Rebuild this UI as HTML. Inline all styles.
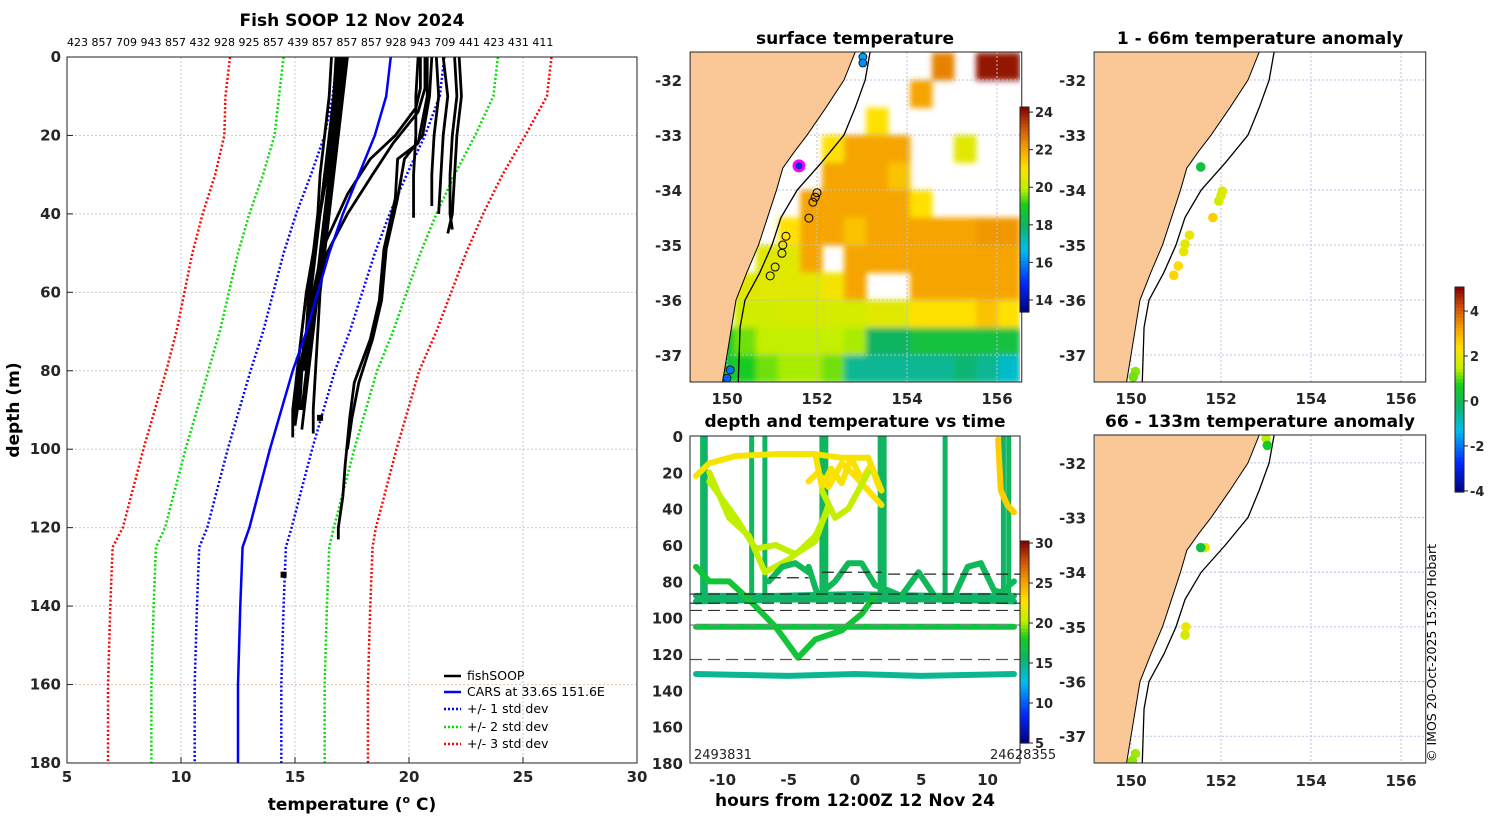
<!DOCTYPE html>
<html><head><meta charset="utf-8"><title>Fish SOOP 12 Nov 2024</title>
<style>
html,body{margin:0;padding:0;background:#fff;}
svg{display:block;font-family:"DejaVu Sans","Liberation Sans",sans-serif;}
.tk{font-size:15px;font-weight:bold;fill:#262626;}
.tt{font-size:17px;font-weight:bold;fill:#000;}
.lg{font-size:12.5px;fill:#000;}
</style></head>
<body>
<svg id="chart" width="1500" height="820" viewBox="0 0 1500 820" xmlns="http://www.w3.org/2000/svg">
<defs>
<clipPath id="clipL"><rect x="67" y="57" width="570" height="706"/></clipPath>
<clipPath id="clipM"><rect x="690" y="52" width="330" height="330"/></clipPath>
<clipPath id="clipT"><rect x="690" y="436" width="330" height="327"/></clipPath>
<clipPath id="clipR1"><rect x="1095" y="52" width="332" height="330"/></clipPath>
<clipPath id="clipR2"><rect x="1095" y="435" width="332" height="328"/></clipPath>
<filter id="soft" x="-5%" y="-5%" width="110%" height="110%"><feGaussianBlur stdDeviation="3"/></filter>
</defs>
<g id="gL"></g>
<g id="gM"></g>
<g id="gT"></g>
<g id="gR1"></g>
<g id="gR2"></g>
<text class="tt" x="352" y="26" text-anchor="middle">Fish SOOP 12 Nov 2024</text>
<text x="67" y="46" font-size="11" fill="#000">423 857 709 943 857 432 928 925 857 439 857 857 857 928 943 709 441 423 431 411</text>
<text class="tt" x="352" y="810" text-anchor="middle">temperature (<tspan font-size="11" dy="-7">o</tspan><tspan dy="7"> C)</tspan></text>
<text class="tt" x="19" y="410" text-anchor="middle" transform="rotate(-90 19 410)">depth (m)</text>
<text class="tt" x="855" y="44" text-anchor="middle">surface temperature</text>
<text class="tt" x="1260" y="44" text-anchor="middle">1 - 66m temperature anomaly</text>
<text class="tt" x="855" y="427" text-anchor="middle">depth and temperature vs time</text>
<text class="tt" x="1260" y="427" text-anchor="middle">66 - 133m temperature anomaly</text>
<text class="tt" x="855" y="806" text-anchor="middle">hours from 12:00Z 12 Nov 24</text>
<text x="1436" y="762" font-size="12.5" fill="#000" transform="rotate(-90 1436 762)">© IMOS 20-Oct-2025 15:20 Hobart</text>
<g>
<line x1="444" y1="676" x2="461" y2="676" stroke="#000" stroke-width="2.5"/>
<text class="lg" x="467" y="680">fishSOOP</text>
<line x1="444" y1="692" x2="461" y2="692" stroke="#0000ff" stroke-width="2.5"/>
<text class="lg" x="467" y="696">CARS at 33.6S 151.6E</text>
<line x1="444" y1="709" x2="461" y2="709" stroke="#0000ff" stroke-width="2.5" stroke-dasharray="2 2"/>
<text class="lg" x="467" y="713">+/- 1 std dev</text>
<line x1="444" y1="727" x2="461" y2="727" stroke="#00dd00" stroke-width="2.5" stroke-dasharray="2 2"/>
<text class="lg" x="467" y="731">+/- 2 std dev</text>
<line x1="444" y1="744" x2="461" y2="744" stroke="#ff0000" stroke-width="2.5" stroke-dasharray="2 2"/>
<text class="lg" x="467" y="748">+/- 3 std dev</text>
</g>
</svg>
<script>
// ---------- profile panel data ----------
const xTicks=[5,10,15,20,25,30];
const yTicks=[0,20,40,60,80,100,120,140,160,180];
const carsDepth=[0,10,20,30,40,50,60,70,80,100,120,125,140,160,180];
const carsMean=[19.2,19.0,18.5,17.8,17.1,16.5,16.0,15.5,14.9,13.9,13.0,12.7,12.6,12.5,12.5];
const carsSd=[2.35,2.35,2.2,2.1,2.05,2.0,1.95,1.9,1.85,1.85,1.85,1.9,1.9,1.9,1.9];
const profDepths=[
 [0,10,20,30,40,50,60,70,80,90,97],
 [0,10,20,30,40,50,60,70,80,90,95],
 [0,10,20,30,40,50,60,70,80,90,94],
 [0,10,20,30,40,50,60,70,80,90,96],
 [0,10,20,30,40,50,60,70,80,90,93],
 [0,10,20,30,40,50,60,70,80,90],
 [0,10,20,30,40,50,60,70,80,88],
 [0,8,13,20,26,35,49,60,70,80,90],
 [0,8,14,22,30,40,50,60,70,80],
 [0,10,22,26,36,49,62,72,83,92,104,112,120,123],
 [0,10,20,26,36,49,62,72,83,92,100],
 [0,10,20,30,41],
 [0,10,20,30,40,44],
 [0,10,20,30,40],
 [0,10,20,30,38],
 [0,10,20,30,40,45]
];
const profTemps=[
 [16.9,16.8,16.6,16.3,16.1,15.8,15.5,15.3,15.1,14.9,14.9],
 [17.1,17.0,16.8,16.6,16.4,16.2,16.0,15.8,15.6,15.4,15.3],
 [16.6,16.5,16.3,16.1,16.0,15.8,15.6,15.5,15.3,15.1,15.0],
 [17.3,17.1,16.9,16.7,16.5,16.3,16.1,16.0,15.9,15.8,15.8],
 [16.8,16.7,16.5,16.3,16.1,15.9,15.7,15.5,15.2,15.0,14.9],
 [17.0,16.9,16.7,16.5,16.3,16.1,15.9,15.7,15.5,15.3],
 [17.2,17.0,16.7,16.4,16.1,15.8,15.5,15.3,15.1,15.0],
 [20.5,20.5,20.3,19.4,18.3,17.3,16.2,15.8,15.5,15.3,15.2],
 [20.7,20.7,20.4,19.3,18.4,17.3,16.4,15.9,15.6,15.4],
 [20.8,20.8,20.4,19.5,19.4,18.9,18.7,18.3,17.6,17.4,17.2,17.1,16.9,16.9],
 [21.0,20.9,20.6,19.8,19.5,19.0,18.8,18.4,17.8,17.5,17.3],
 [20.4,20.3,20.3,20.2,20.2],
 [22.0,22.1,21.9,21.8,21.8,21.9],
 [21.5,21.7,21.5,21.4,21.3],
 [21.2,21.3,21.1,21.0,21.0],
 [22.2,22.3,22.1,22.0,21.9,21.7]
];
const blobTemps=[16.1,14.5];
const blobDepths=[92,132];

// ---------- SST map data (coarse grid; null = no data) ----------
const sstLon0=149.18, sstDLon=0.4887, sstLat0=-31.5, sstDLat=0.5;
const sstGrid=[
 [null,null,null,null,null,null,null,null,null,null,null,22.5,null,24,24],
 [null,null,null,null,null,null,null,null,null,null,22,null,null,null,null],
 [null,null,null,null,null,null,null,null,21,null,null,null,null,null,null],
 [null,null,null,null,null,null,21,22,22,22,null,null,20.5,null,null],
 [null,null,null,null,null,null,22,22,22,21.5,null,null,null,null,null],
 [null,null,null,null,null,22,22,22,22,22,21,null,null,null,null],
 [null,null,null,null,21,22,22,21.5,22,22,22,22,22,22.2,22.2],
 [null,null,null,20.5,20.5,22,null,22,22,22,22,22,22,22,22],
 [null,null,20.5,20.5,20.5,20.5,20.8,22,null,null,22,22,22,22,22],
 [null,null,20.2,20.2,20.3,20.3,20.3,20.3,20.5,20.5,21,21,21,21.5,21],
 [null,19,19.5,20,20,20,20,19.8,18,18,18.5,18.5,18.5,18.5,18.5],
 [null,18.5,19,19.5,19.8,19.8,19.5,17.5,17.5,17.5,17.5,17.5,17.8,17.5,17]
];
const coastLon=[152.85,152.6,152.2,151.78,151.5,151.24,151.1,150.9,150.7,150.44,150.2,150.1,150.0,149.9];
const coastLat=[-31.49,-32.0,-32.5,-33.0,-33.3,-33.6,-34.0,-34.5,-35.0,-35.5,-36.0,-36.5,-37.0,-37.5];
const trackLon=[153.18,153.07,152.85,152.6,152.1,151.56,151.2,151.0,150.73,150.4,150.29,150.27,150.25];
const trackLat=[-31.49,-32.0,-32.5,-33.0,-33.5,-34.0,-34.5,-35.0,-35.5,-36.0,-36.5,-37.0,-37.5];
const obsLon=[152.0,151.96,151.91,151.82,151.31,151.24,151.22,151.07,150.96];
const obsLat=[-34.05,-34.13,-34.22,-34.51,-34.84,-35.0,-35.15,-35.4,-35.56];
const endLon=[153.02,153.02,150.07,150.0];
const endLat=[-31.58,-31.69,-37.27,-37.42];
const endTemp=[16.3,16.1,15.8,15.6];
const curLon=151.6, curLat=-33.56;
const lonTicks=[150,152,154,156];
const latTicks=[-32,-33,-34,-35,-36,-37];
const sstCbTicks=[14,16,18,20,22,24];
// anomaly dots
const anom1Lon=[151.55,152.03,152.0,151.95,151.82,151.3,151.2,151.17,151.05,150.95,150.1,150.05];
const anom1Lat=[-33.58,-34.02,-34.1,-34.2,-34.5,-34.82,-34.98,-35.12,-35.38,-35.55,-37.3,-37.4];
const anom1Val=[0.2,1.8,1.8,1.7,2.6,2.0,1.9,2.0,2.4,2.5,1.2,1.1];
const anom2Lon=[153.0,153.03,151.65,151.55,151.22,151.2,150.1,150.03];
const anom2Lat=[-31.55,-31.68,-33.55,-33.55,-35.0,-35.15,-37.32,-37.45];
const anom2Val=[1.4,0.6,2.0,0.2,2.1,1.7,1.3,1.2];
const anomCbTicks=[4,2,0,-2,-4];

// ---------- depth vs time data ----------
const hourTicks=[-10,-5,0,5,10];
const dtDepthTicks=[0,20,40,60,80,100,120,140,160,180];
const dtCbTicks=[30,25,20,15,10,5];
const spikeHours=[-11.5,-11.3,-7.8,-6.8,-2.5,-2.2,1.9,2.2,6.8,11.2,11.6];
const spikeTemps=[15.8,15.5,15.9,15.8,15.7,15.9,15.6,15.8,15.8,15.5,15.9];
const traceHours=[
 [-12,-6,0,6,12],
 [-12,-6,0,6,12],
 [-12,-6,0,6,12],
 [-12,-5,0,5,12],
 [-12,-11,-9,-6,-3,-1,1,2],
 [-3.5,-2.8,-2,-1,0,1,2],
 [-3,-2.5,-1.8,-1,-0.3,0.5,1.2,1.8],
 [10.8,11,11.5,12],
 [-11,-9.5,-8,-6.8,-5,-4,-3,-2],
 [-11,-9,-7.5,-6,-4.5,-3,-2],
 [-2.5,-1.5,-0.5,1],
 [-3.5,-2.8,-1.5,-0.5,0.5,1.5,2.5,3.5,4.8,6,7.5,8.5,9.5,10.5,11,12],
 [-6.5,-5.5,-4.5,-3.5],
 [-12,-11,-9.5,-8,-6,-4.3,-3,-1,0.5,1.5]
];
const traceDepths=[
 [91,90,90,90,91],
 [88,88,87,88,88],
 [105,105,105,105,105],
 [131,132,131,132,131],
 [22,15,11,10,10,12,12,30],
 [25,20,28,15,22,30,38],
 [10,28,18,26,12,24,16,28],
 [2,30,38,42],
 [20,45,55,75,68,62,55,40],
 [25,45,62,60,65,58,38],
 [30,45,40,20],
 [72,88,80,70,70,82,85,88,75,88,88,72,70,85,86,80],
 [80,72,70,75],
 [72,80,80,90,105,122,112,107,98,88]
];
const traceTemps=[15.6,15.4,16.8,14.6,22.3,22.6,22.4,23.4,20.5,20.2,20.4,16.0,16.0,17.2];
const dashDepths=[87,92,96,104,123];
const dashColors=['#222','#222','#333','#888','#555'];
const shortDashStart=[-6.5,-2.5,2.5];
const shortDashEnd=[-3.5,2,12.5];
const shortDashDepth=[78,75,76];

// ---------- helpers ----------
const NS='http://www.w3.org/2000/svg';
function mk(tag,attrs,parent){const e=document.createElementNS(NS,tag);for(const k in attrs)e.setAttribute(k,attrs[k]);parent.appendChild(e);return e;}
const cmapStops=[[0,[0,0,128]],[0.14,[0,40,255]],[0.3,[0,190,240]],[0.42,[16,180,100]],[0.52,[20,205,30]],[0.6,[190,240,0]],[0.7,[255,225,0]],[0.8,[245,160,0]],[0.9,[205,80,10]],[1,[128,0,0]]];
function cmap(t){t=Math.max(0,Math.min(1,t));for(let i=1;i<cmapStops.length;i++){const a=cmapStops[i-1],b=cmapStops[i];if(t<=b[0]){const f=(t-a[0])/(b[0]-a[0]);const c=a[1].map((v,k)=>Math.round(v+(b[1][k]-v)*f));return 'rgb('+c.join(',')+')';}}return 'rgb(128,0,0)';}
function colorbar(parent,x,y0,y1,vmin,vmax,ticks,name){
 const n=60,h=(y1-y0)/n;
 for(let i=0;i<n;i++){const r=mk('rect',{x:x,y:y0+i*h,width:9,height:h+0.6,fill:cmap(1-(i+0.5)/n)},parent);
  
  }
 const fr=mk('rect',{x:x,y:y0,width:9,height:y1-y0,fill:'none',stroke:'#222','stroke-width':1},parent);
 
 
 ticks.forEach(v=>{const yy=y1-(v-vmin)/(vmax-vmin)*(y1-y0);
  const tl=mk('line',{x1:x+9,x2:x+13,y1:yy,y2:yy,stroke:'#222'},parent);
  
  
  const t=mk('text',{x:x+15,y:yy+5,'font-size':13,'font-weight':'bold',fill:'#262626'},parent);t.textContent=v;
  
  });
}

// ---------- left profile panel ----------
(function(){
 const g=document.getElementById('gL');
 const X=t=>67+(t-5)*22.8, Y=d=>57+d*3.922;
 xTicks.forEach(t=>{if(t>5&&t<30){const l=mk('line',{x1:X(t),x2:X(t),y1:57,y2:763,stroke:'#b8c8e8','stroke-width':1,'stroke-dasharray':'2 2'},g);
  
  }
  const tx=mk('text',{x:X(t),y:782,'text-anchor':'middle',class:'tk'},g);tx.textContent=t;
  
  
  const tm=mk('line',{x1:X(t),x2:X(t),y1:763,y2:757,stroke:'#222'},g);
  
  });
 yTicks.forEach(d=>{if(d>0&&d<180){const l=mk('line',{x1:67,x2:637,y1:Y(d),y2:Y(d),stroke:'#dcc8b8','stroke-width':1,'stroke-dasharray':'2 2'},g);
  
  }
  const tx=mk('text',{x:61,y:Y(d)+5,'text-anchor':'end',class:'tk'},g);tx.textContent=d;
  
  
  const tm=mk('line',{x1:67,x2:73,y1:Y(d),y2:Y(d),stroke:'#222'},g);
  
  });
 const c=mk('g',{'clip-path':'url(#clipL)'},g);
 
 
 const sdCols={1:'#0000ff',2:'#00dd00',3:'#ff0000'};
 [3,2,1].forEach(k=>{[-1,1].forEach(s=>{
  const pts=carsDepth.map((d,i)=>X(carsMean[i]+s*k*carsSd[i])+','+Y(d)).join(' ');
  const p=mk('polyline',{points:pts,fill:'none',stroke:sdCols[k],'stroke-width':2.5,'stroke-dasharray':'2 2.2'},c);
  
  });});
 profDepths.forEach((ds,j)=>{
  const pts=ds.map((d,i)=>X(profTemps[j][i])+','+Y(d)).join(' ');
  const p=mk('polyline',{points:pts,fill:'none',stroke:'#000','stroke-width':2.8,'stroke-linejoin':'round'},c);
  
  });
 blobDepths.forEach((d,i)=>{const r=mk('rect',{x:X(blobTemps[i])-3,y:Y(d)-3,width:6,height:6,fill:'#000'},c);
  
  });
 const pm=mk('polyline',{points:carsDepth.map((d,i)=>X(carsMean[i])+','+Y(d)).join(' '),fill:'none',stroke:'#0000ff','stroke-width':2.5},c);
 
 
 const f=mk('rect',{x:67,y:57,width:570,height:706,fill:'none',stroke:'#222','stroke-width':1},g);
 
 
})();

// ---------- map helpers ----------
function mapPanel(g,x0,y0,y1,clip,name,drawField){
 const X=lon=>x0+(lon-150)*45;
 const latScale=(y1-y0)/6.0;
 const Y=lat=>y0+(-31.49-lat)*latScale;
 const c=mk('g',{'clip-path':'url('+clip+')'},g);
 
 
 if(drawField) drawField(c,X,Y);
 lonTicks.forEach(l=>{const gl=mk('line',{x1:X(l),x2:X(l),y1:y0,y2:y1,stroke:'#b8c0e0','stroke-dasharray':'2 2'},c);
  
  });
 latTicks.forEach(l=>{const gl=mk('line',{x1:X(149.18),x2:X(156.55),y1:Y(l),y2:Y(l),stroke:'#b8c0e0','stroke-dasharray':'2 2'},c);
  
  });
 const lp=coastLon.map((lo,i)=>X(lo)+','+Y(coastLat[i])).join(' ')+' '+X(148)+','+Y(-37.6)+' '+X(148)+','+Y(-31.4);
 const land=mk('polygon',{points:lp,fill:'#f9c896',stroke:'#000','stroke-width':1},c);
 
 
 const tr=mk('polyline',{points:trackLon.map((lo,i)=>X(lo)+','+Y(trackLat[i])).join(' '),fill:'none',stroke:'#000','stroke-width':1.3},c);
 
 
 const fx=X(149.18), fw=X(156.55)-fx;
 const fr=mk('rect',{x:fx,y:y0,width:fw,height:y1-y0,fill:'none',stroke:'#222'},g);
 
 
 latTicks.forEach(l=>{const t=mk('text',{x:fx-8,y:Y(l)+6,'text-anchor':'end',class:'tk'},g);t.textContent=l;
  
  });
 return {X,Y,c};
}
function lonLabels(g,x0,y){lonTicks.forEach(l=>{const t=mk('text',{x:x0+(l-150)*45,y:y,'text-anchor':'middle',class:'tk'},g);t.textContent=l;
 
 });}

// ---------- SST map ----------
(function(){
 const g=document.getElementById('gM');
 const m=mapPanel(g,727,52,382,'#clipM','sst-map',(c,X,Y)=>{
  const fg=mk('g',{filter:'url(#soft)'},c);
  
  
  sstGrid.forEach((row,r)=>row.forEach((v,k)=>{if(v===null)return;
   const lo=sstLon0+k*sstDLon, la=sstLat0-r*sstDLat;
   const cell=mk('rect',{x:X(lo),y:Y(la),width:sstDLon*45+0.5,height:sstDLat*55+0.5,fill:cmap((v-13.36)/(24.27-13.36))},fg);
   
   }));
 });
 obsLon.forEach((lo,i)=>{const ci=mk('circle',{cx:m.X(lo),cy:m.Y(obsLat[i]),r:4,fill:'none',stroke:'#000','stroke-width':1},m.c);
  
  });
 endLon.forEach((lo,i)=>{const ci=mk('circle',{cx:m.X(lo),cy:m.Y(endLat[i]),r:4,fill:cmap((endTemp[i]-13.36)/(24.27-13.36)),stroke:'#000','stroke-width':0.8},m.c);
  
  });
 const cur=mk('circle',{cx:m.X(curLon),cy:m.Y(curLat),r:5,fill:'#0033cc',stroke:'#ff00ff','stroke-width':3},m.c);
 
 
 lonLabels(g,727,404);
 colorbar(g,1020,107,312,13.36,24.27,sstCbTicks,'sst-colorbar');
})();

// ---------- anomaly maps ----------
function anomDots(m,lons,lats,vals){lons.forEach((lo,i)=>{const ci=mk('circle',{cx:m.X(lo),cy:m.Y(lats[i]),r:4.8,fill:cmap((vals[i]+4.05)/9.12)},m.c);
 
 });}
(function(){
 const g1=document.getElementById('gR1');
 const m1=mapPanel(g1,1131,52,382,'#clipR1','anomaly-map-1',null);
 anomDots(m1,anom1Lon,anom1Lat,anom1Val);
 lonLabels(g1,1131,404);
 const g2=document.getElementById('gR2');
 const m2=mapPanel(g2,1131,435,763,'#clipR2','anomaly-map-2',null);
 anomDots(m2,anom2Lon,anom2Lat,anom2Val);
 lonLabels(g2,1131,786);
 colorbar(g2,1455,287,492,-4.05,5.07,anomCbTicks,'anomaly-colorbar');
})();

// ---------- depth vs time ----------
(function(){
 const g=document.getElementById('gT');
 const X=h=>855+h*13.25, Y=d=>436+d*1.817;
 const c=mk('g',{'clip-path':'url(#clipT)'},g);
 
 
 const tc=v=>cmap((v-5)/25.25);
 traceHours.forEach((hs,j)=>{if(j>3)return;
  const p=mk('polyline',{points:hs.map((h,i)=>X(h)+','+Y(traceDepths[j][i])).join(' '),fill:'none',stroke:tc(traceTemps[j]),'stroke-width':6,'stroke-linejoin':'round','stroke-linecap':'round'},c);
  
  });
 spikeHours.forEach((h,i)=>{const l=mk('line',{x1:X(h),x2:X(h),y1:Y(0),y2:Y(90),stroke:tc(spikeTemps[i]),'stroke-width':5},c);
  
  });
 traceHours.forEach((hs,j)=>{if(j<=3)return;
  const p=mk('polyline',{points:hs.map((h,i)=>X(h)+','+Y(traceDepths[j][i])).join(' '),fill:'none',stroke:tc(traceTemps[j]),'stroke-width':6,'stroke-linejoin':'round','stroke-linecap':'round'},c);
  
  });
 dashDepths.forEach((d,i)=>{const l=mk('line',{x1:690,x2:1020,y1:Y(d),y2:Y(d),stroke:dashColors[i],'stroke-width':1.2,'stroke-dasharray':'12 6'},c);
  
  });
 shortDashDepth.forEach((d,i)=>{const l=mk('line',{x1:X(shortDashStart[i]),x2:X(shortDashEnd[i]),y1:Y(d),y2:Y(d),stroke:'#222','stroke-width':1.2,'stroke-dasharray':'12 6'},c);
  
  });
 const f=mk('rect',{x:690,y:436,width:330,height:327,fill:'none',stroke:'#222'},g);
 
 
 hourTicks.forEach(h=>{const t=mk('text',{x:X(h),y:785,'text-anchor':'middle',class:'tk'},g);t.textContent=h;
  
  });
 dtDepthTicks.forEach(d=>{const t=mk('text',{x:683,y:Y(d)+6,'text-anchor':'end',class:'tk'},g);t.textContent=d;
  
  });
 const a=mk('text',{x:694,y:759,'font-size':13,fill:'#222'},g);a.textContent='2493831';
 
 
 const b=mk('text',{x:990,y:759,'font-size':13,fill:'#222'},g);b.textContent='24628355';
 
 
 colorbar(g,1020,541,743,5,30.25,dtCbTicks,'depth-time-colorbar');
})();
</script>
</body></html>
